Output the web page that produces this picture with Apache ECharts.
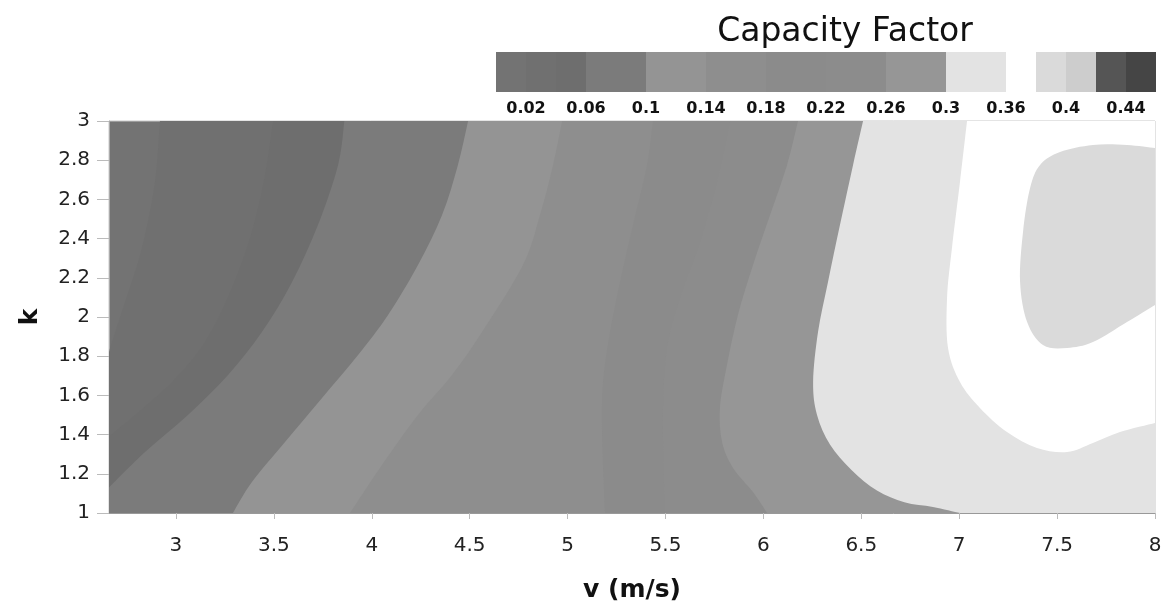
<!DOCTYPE html>
<html>
<head>
<meta charset="utf-8">
<title>Capacity Factor</title>
<script src="https://cdn.jsdelivr.net/npm/echarts@6/dist/echarts.min.js"></script>
<style>
  html, body { margin: 0; padding: 0; background: #fff; }
  #chart { width: 1173px; height: 613px; }
</style>
</head>
<body>
<div id="chart"></div>
<script>
// axis ranges: wind speed v (m/s) and Weibull shape factor k
const vRange = [2.658, 8];
const kRange = [1, 3];
const vTicks = [3, 3.5, 4, 4.5, 5, 5.5, 6, 6.5, 7, 7.5, 8];

// contour lines as [v, k], from the top edge down
const cf002 = [[2.918, 3], [2.893, 2.689], [2.826, 2.352], [2.740, 2.077], [2.673, 1.872], [2.658, 1.82]];
const cf004 = [[3.496, 3], [3.455, 2.724], [3.388, 2.434], [3.286, 2.148], [3.148, 1.872], [2.980, 1.668], [2.791, 1.5], [2.658, 1.39]];
const cf006 = [[3.86, 3], [3.828, 2.776], [3.725, 2.469], [3.593, 2.179], [3.439, 1.923], [3.266, 1.704], [3.061, 1.5], [2.842, 1.311], [2.658, 1.13]];
const cf010 = [[4.492, 3], [4.44, 2.776], [4.359, 2.52], [4.236, 2.265], [4.083, 2.01], [3.93, 1.806], [3.746, 1.587], [3.557, 1.362], [3.388, 1.158], [3.291, 1]];
const cf014 = [[4.972, 3], [4.926, 2.776], [4.859, 2.52], [4.772, 2.265], [4.563, 1.923], [4.41, 1.704], [4.236, 1.5], [4.052, 1.245], [3.889, 1]];
const cf018 = [[5.436, 3], [5.406, 2.776], [5.334, 2.469], [5.268, 2.179], [5.217, 1.923], [5.181, 1.668], [5.176, 1.413], [5.191, 1]];
const cf022 = [[5.83, 3], [5.763, 2.689], [5.676, 2.383], [5.574, 2.097], [5.508, 1.842], [5.487, 1.5], [5.497, 1]];
const cf026 = [[6.177, 3], [6.121, 2.776], [6.034, 2.52], [5.947, 2.265], [5.87, 2.01], [5.814, 1.755], [5.778, 1.536], [5.789, 1.362], [5.845, 1.23], [5.947, 1.107], [6.019, 1]];
const cf030 = [[6.509, 3], [6.458, 2.776], [6.391, 2.469], [6.33, 2.179], [6.279, 1.923], [6.254, 1.668], [6.274, 1.5], [6.34, 1.35], [6.45, 1.22], [6.58, 1.115], [6.72, 1.055], [6.866, 1.031], [7.004, 1]];
const cf034 = [[7.04, 3], [7.004, 2.689], [6.963, 2.352], [6.938, 2.097], [6.943, 1.842], [7.004, 1.668], [7.106, 1.536], [7.244, 1.413], [7.397, 1.332], [7.551, 1.311], [7.683, 1.357], [7.821, 1.413], [8, 1.459]];
const cf036 = [[8, 2.862], [7.857, 2.878], [7.683, 2.878], [7.515, 2.842], [7.413, 2.776], [7.362, 2.658], [7.326, 2.434], [7.311, 2.179], [7.347, 1.974], [7.428, 1.857], [7.551, 1.842], [7.683, 1.872], [7.857, 1.974], [8, 2.061]];

const contourLevels = [0.02, 0.04, 0.06, 0.10, 0.14, 0.18, 0.22, 0.26, 0.30, 0.34, 0.36];
const contours = [cf002, cf004, cf006, cf010, cf014, cf018, cf022, cf026, cf030, cf034, cf036];

// colour strip of the legend, in strip units
const legendEdges = [0, 1, 2, 3, 5, 7, 9, 11, 13, 15, 17, 18, 19, 20, 21, 22];
const legendTickPos = [1, 3, 5, 7, 9, 11, 13, 15, 17, 19, 21];
const legendTickText = ['0.02', '0.06', '0.1', '0.14', '0.18', '0.22', '0.26', '0.3', '0.36', '0.4', '0.44'];

const bandColors = ['#737373', '#707070', '#6e6e6e', '#7b7b7b', '#949494', '#8e8e8e', '#8b8b8b',
  '#8c8c8c', '#969696', '#e3e3e3', '#ffffff', '#dadada', '#cdcdcd', '#555555', '#454545'];

const FONT = 'DejaVu Sans';

// region above a contour level: the contour, then round the right side of the plot
const renderBand = (params, api) => {
  const line = contours[params.dataIndex];
  const pts = line.map((p) => api.coord(p));
  let d = 'M' + pts[0][0] + ' ' + pts[0][1];
  for (let i = 0; i < pts.length - 1; i++) {
    const p0 = pts[i - 1] || pts[i];
    const p1 = pts[i];
    const p2 = pts[i + 1];
    const p3 = pts[i + 2] || p2;
    d += ' C' + [
      p1[0] + (p2[0] - p0[0]) / 6, p1[1] + (p2[1] - p0[1]) / 6,
      p2[0] - (p3[0] - p1[0]) / 6, p2[1] - (p3[1] - p1[1]) / 6,
      p2[0], p2[1]
    ].join(' ');
  }
  const first = line[0];
  const last = line[line.length - 1];
  const corners = [];
  if (last[0] === vRange[0]) corners.push([vRange[0], kRange[0]]);
  if (last[0] !== vRange[1]) corners.push([vRange[1], kRange[0]]);
  if (first[0] !== vRange[1]) corners.push([vRange[1], kRange[1]]);
  corners.forEach((c) => {
    const p = api.coord(c);
    d += ' L' + p[0] + ' ' + p[1];
  });
  d += ' Z';
  return {
    type: 'path',
    shape: { pathData: d },
    style: { fill: bandColors[params.dataIndex + 1], stroke: null }
  };
};

const renderSwatch = (params, api) => {
  const a = api.coord([api.value(0), 1]);
  const b = api.coord([api.value(1), 0]);
  return {
    type: 'rect',
    shape: { x: a[0], y: a[1], width: b[0] - a[0], height: b[1] - a[1] },
    style: { fill: bandColors[params.dataIndex] }
  };
};

const chart = echarts.init(document.getElementById('chart'), null, { renderer: 'canvas' });

chart.setOption({
  animation: false,
  backgroundColor: '#fff',
  graphic: [{
    type: 'text',
    x: 845,
    y: 32,
    style: {
      text: 'Capacity Factor',
      font: '33px "DejaVu Sans"',
      fill: '#111',
      textAlign: 'center',
      textVerticalAlign: 'middle'
    }
  }],
  grid: [
    {
      left: 109, right: 18, top: 121, bottom: 100,
      show: true, backgroundColor: bandColors[0], borderColor: '#c8c8c8', borderWidth: 1
    },
    { left: 496, top: 52, width: 660, height: 40 }
  ],
  xAxis: [
    {
      type: 'value',
      min: vRange[0],
      max: vRange[1],
      name: 'v (m/s)',
      nameLocation: 'middle',
      nameGap: 65,
      nameTextStyle: { fontFamily: FONT, fontSize: 25, fontWeight: 'bold', color: '#111' },
      axisLine: { lineStyle: { color: '#999' } },
      axisTick: { customValues: vTicks, length: 6, lineStyle: { color: '#bbb' } },
      axisLabel: { customValues: vTicks, fontFamily: FONT, fontSize: 20, color: '#222', margin: 23 },
      splitLine: { show: false }
    },
    {
      gridIndex: 1,
      type: 'value',
      min: 0,
      max: 22,
      axisLine: { show: false },
      axisTick: { show: false },
      splitLine: { show: false },
      axisLabel: {
        customValues: legendTickPos,
        formatter: (v) => {
          const i = legendTickPos.indexOf(Math.round(v));
          return i < 0 ? '' : legendTickText[i];
        },
        fontFamily: FONT, fontSize: 16, fontWeight: 'bold', color: '#111', margin: 9
      }
    }
  ],
  yAxis: [
    {
      type: 'value',
      min: kRange[0],
      max: kRange[1],
      interval: 0.2,
      name: 'k',
      nameLocation: 'middle',
      nameRotate: 90,
      nameGap: 66,
      nameTextStyle: { fontFamily: FONT, fontSize: 25, fontWeight: 'bold', color: '#111' },
      axisLine: { show: true, lineStyle: { color: '#aaa' } },
      axisTick: { show: true, length: 12, lineStyle: { color: '#bbb' } },
      axisLabel: { fontFamily: FONT, fontSize: 20, color: '#222', margin: 19 },
      splitLine: { show: false }
    },
    { gridIndex: 1, type: 'value', min: 0, max: 1, show: false }
  ],
  series: [
    {
      type: 'custom',
      name: 'Capacity Factor',
      clip: true,
      renderItem: renderBand,
      data: contours.map((c, i) => ({ value: [c[0][0], c[0][1]], level: contourLevels[i] })),
      z: 2
    },
    {
      type: 'custom',
      xAxisIndex: 1,
      yAxisIndex: 1,
      renderItem: renderSwatch,
      data: legendEdges.slice(0, -1).map((e, i) => [e, legendEdges[i + 1]])
    }
  ]
});
</script>
</body>
</html>
